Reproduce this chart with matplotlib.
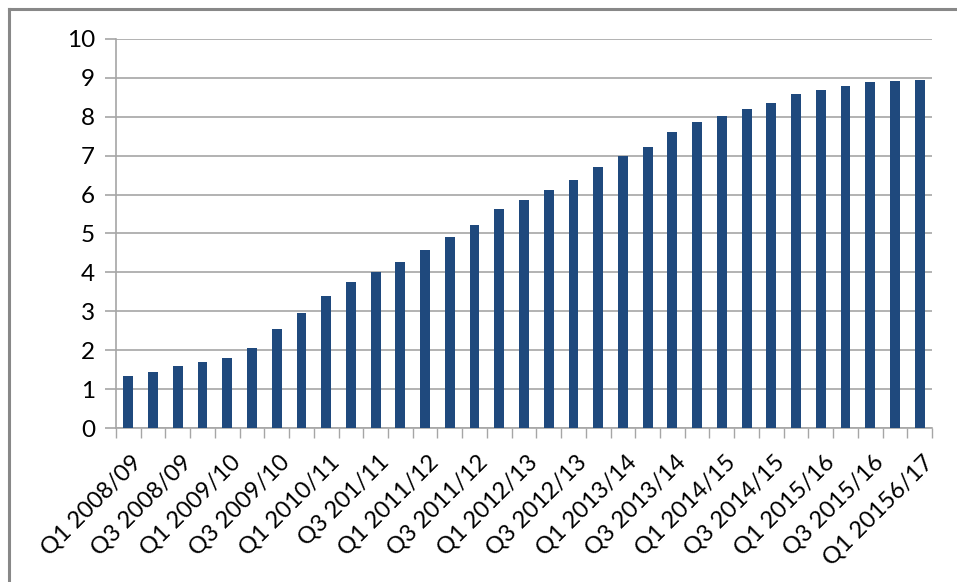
import matplotlib
matplotlib.use("Agg")
import matplotlib.pyplot as plt
from matplotlib.lines import Line2D

# quarterly values, Q1 2008/09 .. Q1 2016/17
quarters = [
    "Q1 2008/09", "Q2 2008/09", "Q3 2008/09", "Q4 2008/09",
    "Q1 2009/10", "Q2 2009/10", "Q3 2009/10", "Q4 2009/10",
    "Q1 2010/11", "Q2 2010/11", "Q3 201/11", "Q4 2010/11",
    "Q1 2011/12", "Q2 2011/12", "Q3 2011/12", "Q4 2011/12",
    "Q1 2012/13", "Q2 2012/13", "Q3 2012/13", "Q4 2012/13",
    "Q1 2013/14", "Q2 2013/14", "Q3 2013/14", "Q4 2013/14",
    "Q1 2014/15", "Q2 2014/15", "Q3 2014/15", "Q4 2014/15",
    "Q1 2015/16", "Q2 2015/16", "Q3 2015/16", "Q4 2015/16",
    "Q1 20156/17",
]
values = [
    1.33, 1.43, 1.60, 1.69, 1.79, 2.05, 2.55, 2.95,
    3.39, 3.75, 4.00, 4.26, 4.58, 4.90, 5.23, 5.62,
    5.85, 6.12, 6.38, 6.71, 7.00, 7.23, 7.60, 7.87,
    8.03, 8.19, 8.36, 8.59, 8.69, 8.79, 8.89, 8.92,
    8.95,
]

plt.rcParams['font.family'] = ['Lato', 'DejaVu Sans']

fig = plt.figure(figsize=(9.57, 5.82), dpi=100)
ax = fig.add_axes([0.1212, 0.2646, 0.8527, 0.6684])

x = list(range(len(values)))
ax.bar(x, values, width=0.4, color="#1f497d", zorder=3)

ax.set_xlim(-0.5, len(values) - 0.5)
ax.set_ylim(0, 10)
ax.set_yticks(range(0, 11))
ax.yaxis.grid(True, color="#a6a6a6", linewidth=1.2, zorder=0)

# tick marks sit on category boundaries, labels on every other bar
ax.set_xticks([i - 0.5 for i in range(len(values) + 1)])
ax.set_xticklabels([])
ax.tick_params(axis="x", length=7, width=1, color="#a6a6a6", direction="out")
ax.tick_params(axis="y", length=8, width=1.2, color="#a6a6a6",
               direction="out", labelsize=17.5, pad=7)

for i in range(0, len(values), 2):
    ax.text(i + 0.1, -0.6, quarters[i], rotation=45, fontsize=17,
            ha="right", va="top", rotation_mode="anchor",
            transform=ax.transData)

for side in ["top", "right"]:
    ax.spines[side].set_visible(False)
ax.spines["left"].set_color("#a6a6a6")
ax.spines["bottom"].set_color("#a6a6a6")
ax.spines["left"].set_linewidth(1.2)
ax.spines["bottom"].set_linewidth(1.2)

# chart area frame (top and left edges)
fig.add_artist(Line2D([9 / 957, 1], [1 - 9 / 582] * 2, color="#888888", linewidth=2.2))
fig.add_artist(Line2D([9 / 957] * 2, [0, 1 - 9 / 582], color="#888888", linewidth=2.2))

fig.savefig("out.png", dpi=100)
